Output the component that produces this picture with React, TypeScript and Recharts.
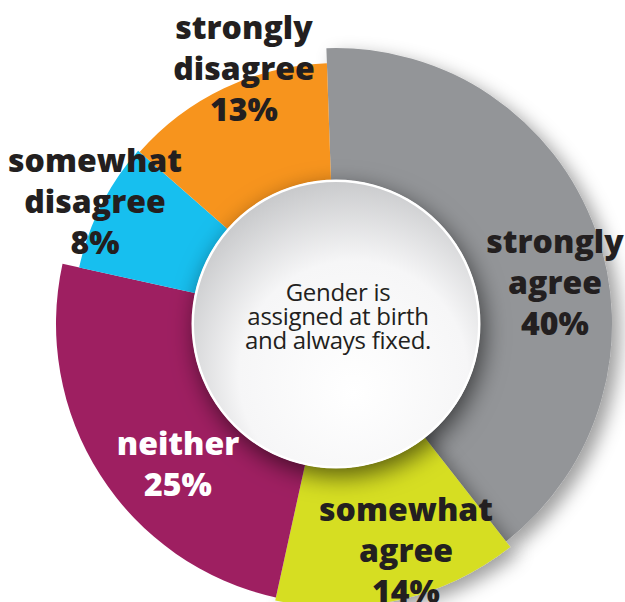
import { PieChart, Pie, Cell } from 'recharts'

const categories = ['strongly agree', 'somewhat agree', 'neither', 'somewhat disagree', 'strongly disagree']
const shares = [40, 14, 25, 8, 13]
const centerLines = ['Gender is', 'assigned at birth', 'and always fixed.']

const colors = ['#939598', '#d6de23', '#9e1f61', '#17bfef', '#f7941d']
const labelColors = ['#231f20', '#231f20', '#ffffff', '#231f20', '#231f20']
// each wedge sticks out a different amount in the original
const outerRadii = [276, 283, 280, 263, 261]
// label anchor relative to pie centre: [dx, first baseline dy]
const labelAnchors = [[219, -71], [70, 197], [-158, 131], [-241, -152], [-92, -285]]

const CX = 336
const CY = 324
const START = 92
const LINE_H = 41

const data = categories.map((name, i) => ({ name, value: shares[i] }))

const renderSliceLabel = (props: any) => {
  const i = props.index
  const cx = props.cx ?? CX
  const cy = props.cy ?? CY
  const [dx, dy] = labelAnchors[i]
  const lines = [...categories[i].split(' '), `${shares[i]}%`]
  return (
    <text
      x={cx + dx}
      y={cy + dy}
      textAnchor="middle"
      fill={labelColors[i]}
      style={{ fontFamily: "'Open Sans', sans-serif", fontWeight: 800, fontSize: 32 }}
    >
      {lines.map((l, j) => (
        <tspan key={j} x={cx + dx} y={cy + dy + j * LINE_H}>{l}</tspan>
      ))}
    </text>
  )
}

const renderCenter = (props: any) => {
  const cx = props.cx ?? CX
  const cy = props.cy ?? CY
  return (
    <text
      x={cx}
      y={cy - 23}
      textAnchor="middle"
      fill="#231f20"
      style={{ fontFamily: "'Open Sans', sans-serif", fontSize: 24, letterSpacing: -0.3 }}
    >
      {centerLines.map((l, j) => (
        <tspan key={j} x={cx + 2} y={cy - 23 + j * 24}>{l}</tspan>
      ))}
    </text>
  )
}

export default function App() {
  return (
    <div style={{ position: 'absolute', left: 0, top: 0, width: 625, height: 602, background: '#fff' }}>
      <svg width={0} height={0} style={{ position: 'absolute' }}>
        <defs>
          <radialGradient id="coreFill" cx="0.56" cy="0.64" r="0.64" fx="0.56" fy="0.74">
            <stop offset="0" stopColor="#ffffff" />
            <stop offset="0.62" stopColor="#f6f6f7" />
            <stop offset="1" stopColor="#c9cacc" />
          </radialGradient>
          <filter id="coreShadow" x="-30%" y="-30%" width="160%" height="160%">
            <feDropShadow dx="4" dy="8" stdDeviation="12" floodColor="#000" floodOpacity="0.6" />
          </filter>
          <filter id="sliceShadow" x="-20%" y="-20%" width="150%" height="150%">
            <feDropShadow dx="8" dy="7" stdDeviation="9" floodColor="#000" floodOpacity="0.38" />
          </filter>
        </defs>
      </svg>
      <PieChart width={625} height={602} margin={{ top: 0, right: 0, bottom: 0, left: 0 }}>
        {data.map((_, k) => (
          <Pie
            key={k}
            data={data}
            dataKey="value"
            cx={CX}
            cy={CY}
            startAngle={START}
            endAngle={START - 360}
            innerRadius={110}
            outerRadius={outerRadii[k]}
            stroke="none"
            isAnimationActive={false}
          >
            {data.map((d, i) => (
              <Cell
                key={d.name}
                fill={i === k ? colors[i] : 'none'}
                filter={i === k && k < 2 ? 'url(#sliceShadow)' : undefined}
              />
            ))}
          </Pie>
        ))}
        <Pie
          data={[{ name: 'core', value: 1 }]}
          dataKey="value"
          cx={CX}
          cy={CY}
          startAngle={90}
          endAngle={-270}
          innerRadius={0}
          outerRadius={144}
          stroke="none"
          isAnimationActive={false}
        >
          <Cell fill="url(#coreFill)" filter="url(#coreShadow)" />
        </Pie>
        <Pie
          data={[{ name: 'rim', value: 1 }]}
          dataKey="value"
          cx={CX}
          cy={CY}
          startAngle={90}
          endAngle={-270}
          innerRadius={142}
          outerRadius={144.5}
          fill="#ffffff"
          stroke="none"
          label={renderCenter}
          labelLine={false}
          isAnimationActive={false}
        />
        <Pie
          data={data}
          dataKey="value"
          cx={CX}
          cy={CY}
          startAngle={START}
          endAngle={START - 360}
          innerRadius={110}
          outerRadius={270}
          fill="none"
          stroke="none"
          label={renderSliceLabel}
          labelLine={false}
          isAnimationActive={false}
        />
      </PieChart>
    </div>
  )
}
